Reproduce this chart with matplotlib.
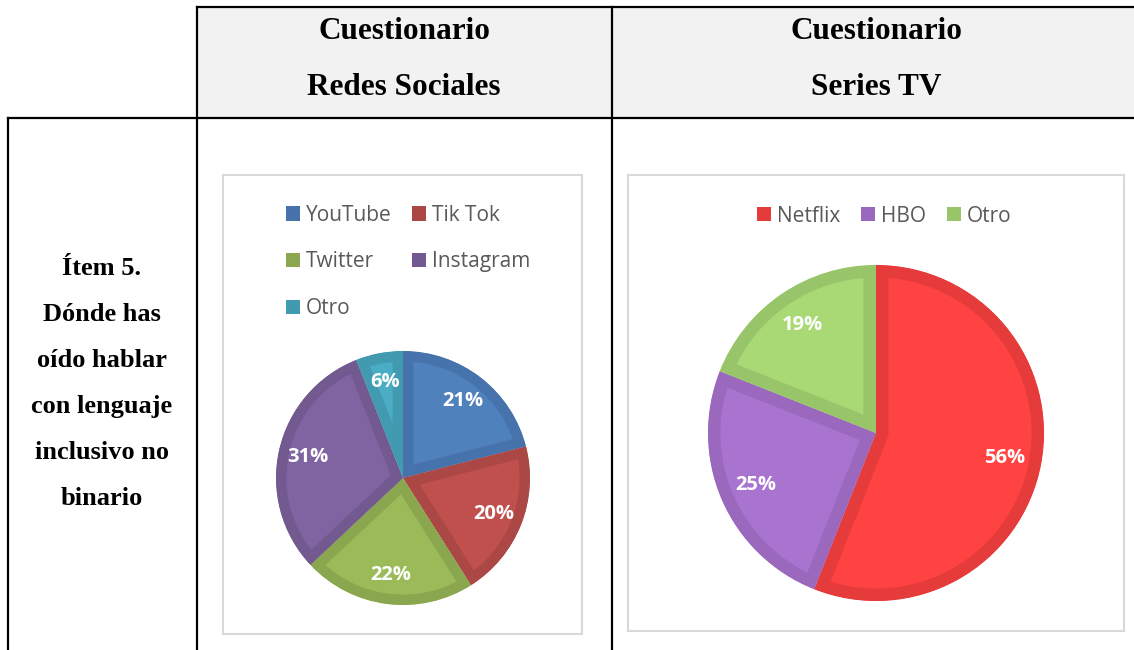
import matplotlib
matplotlib.use("Agg")
import matplotlib.pyplot as plt
from matplotlib.patches import Rectangle, Patch

W, H = 1134, 650

# datos
redes_labels = ["YouTube", "Tik Tok", "Twitter", "Instagram", "Otro"]
redes_vals = [21, 20, 22, 31, 6]
redes_fill = ["#4f81bd", "#c0504d", "#9bbb59", "#8064a2", "#4bacc6"]
redes_edge = ["#4673ab", "#ab4744", "#8aa74f", "#725a91", "#429ab1"]

series_labels = ["Netflix", "HBO", "Otro"]
series_vals = [56, 25, 19]
series_fill = ["#ff4343", "#a974d0", "#a8d975"]
series_edge = ["#e63b3b", "#9a69be", "#98c56a"]

header_left = ["Cuestionario", "Redes Sociales"]
header_right = ["Cuestionario", "Series TV"]
item_lines = ["Ítem 5.", "Dónde has", "oído hablar", "con lenguaje", "inclusivo no", "binario"]

fig = plt.figure(figsize=(W / 100, H / 100), dpi=100)
bg = fig.add_axes([0, 0, 1, 1])
bg.set_xlim(0, W)
bg.set_ylim(H, 0)
bg.axis("off")

# tabla
bg.add_patch(Rectangle((197, 7), W - 197, 111, facecolor="#f2f2f2", edgecolor="none"))
lk = dict(color="black", lw=1.6, solid_capstyle="projecting")
bg.plot([197, W], [7, 7], **lk)
bg.plot([8, W], [118, 118], **lk)
bg.plot([197, 197], [7, H + 5], **lk)
bg.plot([612, 612], [7, H + 5], **lk)
bg.plot([8, 8], [118, H + 5], **lk)

serif = dict(family="Liberation Serif", weight="bold", color="black", ha="center", va="baseline")
for i, t in enumerate(header_left):
    bg.text(404, 39 + 56 * i, t, fontsize=22.5, **serif)
for i, t in enumerate(header_right):
    bg.text(876, 39 + 56 * i, t, fontsize=22.5, **serif)
for i, t in enumerate(item_lines):
    bg.text(102, 275 + 46 * i, t, fontsize=19, **serif)

# cajas de los graficos
bg.add_patch(Rectangle((223, 175), 359, 459, facecolor="white", edgecolor="#d9d9d9", lw=1.5))
bg.add_patch(Rectangle((628, 175), 496, 456, facecolor="white", edgecolor="#d9d9d9", lw=1.5))


def pie_ax(cx, cy, r):
    return fig.add_axes([(cx - r) / W, (H - cy - r) / H, 2 * r / W, 2 * r / H])


def draw_pie(ax, vals, fills, edges, lw, pdist):
    wedges, _, autotexts = ax.pie(vals, colors=fills, startangle=90, counterclock=False,
                                  autopct="%1.0f%%", pctdistance=pdist,
                                  wedgeprops=dict(linewidth=lw),
                                  textprops=dict(color="white", fontsize=14.5,
                                                 family="Open Sans", weight="bold"))
    ax.set_xlim(-1, 1)
    ax.set_ylim(-1, 1)
    ax.set_aspect("equal")
    ax.axis("off")
    # borde interior: el trazo se recorta a la propia cuña
    for w, e in zip(wedges, edges):
        w.set_edgecolor(e)
        w.set_clip_on(True)
        w.set_clip_path(w.get_path(), w.get_transform())


ax1 = pie_ax(403, 478, 127)
draw_pie(ax1, redes_vals, redes_fill, redes_edge, 15, 0.77)
ax2 = pie_ax(876, 433, 168)
draw_pie(ax2, series_vals, series_fill, series_edge, 18, 0.78)

# leyendas
leg_kw = dict(frameon=False, handlelength=0.68, handleheight=0.68,
              handletextpad=0.28, labelcolor="#595959", borderaxespad=0, borderpad=0,
              prop=dict(family="Open Sans", size=15))
order = [0, 2, 4, 1, 3]
h1 = [Patch(facecolor=redes_edge[i], edgecolor="none") for i in order]
l1 = [redes_labels[i] for i in order]
fig.legend(h1, l1, ncol=2, loc="center", bbox_to_anchor=(408, 262),
           bbox_transform=bg.transData, columnspacing=1.0, labelspacing=1.24, **leg_kw)
h2 = [Patch(facecolor=c, edgecolor="none") for c in series_edge]
fig.legend(h2, series_labels, ncol=3, loc="center", bbox_to_anchor=(884, 216),
           bbox_transform=bg.transData, columnspacing=1.0, **leg_kw)

fig.savefig("out.png", dpi=100)
